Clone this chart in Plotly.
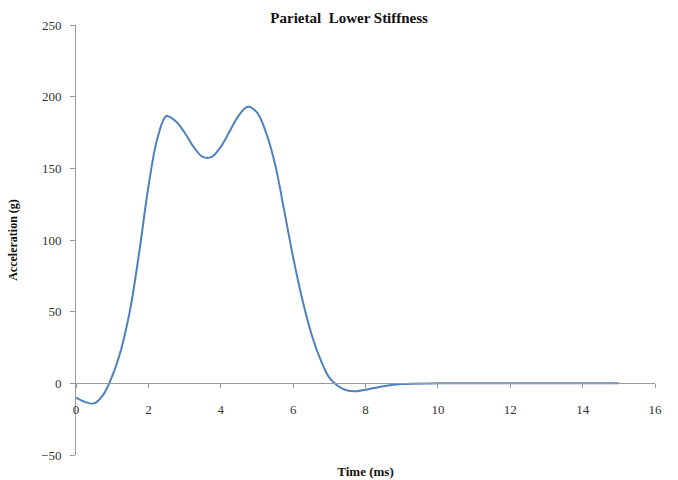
import plotly.graph_objects as go

# Data
time_ms = [0, 0.25, 0.5, 0.75, 1.0, 1.25, 1.5, 1.75, 2.0, 2.25, 2.5, 2.75, 3.0, 3.25,
           3.5, 3.75, 4.0, 4.25, 4.5, 4.75, 5.0, 5.25, 5.5, 5.75, 6.0, 6.25, 6.5,
           6.75, 7.0, 7.25, 7.5, 7.75, 8.0, 8.5, 9.0, 10, 11, 12, 13, 14, 15]
accel_g = [-10, -13, -14, -8, 5, 24, 52, 92, 137, 171, 186.5, 183, 175, 165,
           158, 158, 165, 176, 187, 193, 189, 175, 153, 121, 88, 59, 35,
           17, 4, -2, -5, -5.5, -4.5, -2, -0.5, 0, 0, 0, 0, 0, 0]
x_ticks = [0, 2, 4, 6, 8, 10, 12, 14, 16]
y_ticks = [-50, 0, 50, 100, 150, 200, 250]

serif = "Liberation Serif, Times New Roman, serif"

fig = go.Figure()
fig.add_trace(go.Scatter(x=time_ms, y=accel_g, mode="lines",
                         line=dict(color="#4F81BD", width=2, shape="spline", smoothing=1.0),
                         showlegend=False, hoverinfo="skip"))

fig.update_layout(
    width=678, height=480,
    margin=dict(l=76, r=23, t=25, b=25),
    paper_bgcolor="white", plot_bgcolor="white",
    title=dict(text="<b>Parietal  Lower Stiffness</b>", x=0.515, xanchor="center",
               y=0.962, yanchor="middle", font=dict(family=serif, size=15, color="#111")),
    xaxis=dict(range=[0, 16], tickvals=x_ticks, showgrid=False, zeroline=False,
               showline=True, linecolor="#9a9a9a", linewidth=1,
               ticks="outside", ticklen=4, tickcolor="#9a9a9a",
               ticklabelstandoff=10, automargin=False,
               anchor="free", position=50/300,
               tickfont=dict(family=serif, size=13, color="#333"),
               title=dict(text="<b>Time (ms)</b>", standoff=50,
                          font=dict(family=serif, size=13, color="#111"))),
    yaxis=dict(range=[-50, 250], tickvals=y_ticks, showgrid=False, zeroline=False,
               showline=True, linecolor="#9a9a9a", linewidth=1,
               ticks="outside", ticklen=5, tickcolor="#9a9a9a",
               ticklabelstandoff=6, automargin=False,
               tickfont=dict(family=serif, size=13, color="#333"),
               title=dict(text="<b>Acceleration (g)</b>", standoff=20,
                          font=dict(family=serif, size=12, color="#111"))),
)

fig.write_html("out.html")
